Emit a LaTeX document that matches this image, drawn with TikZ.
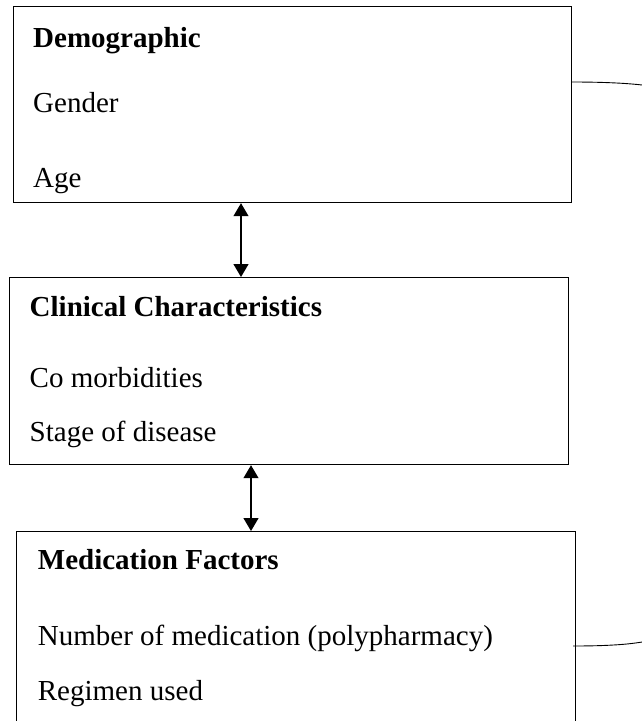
\documentclass[tikz,border=0pt]{standalone}
\usepackage{fontspec}
\setmainfont{Liberation Serif}
\usetikzlibrary{arrows.meta}

\begin{document}
\begin{tikzpicture}[x=1pt,y=-1pt,
		box/.style={draw,line width=1.2pt,inner sep=0pt,anchor=north west},
		item/.style={anchor=base west,inner sep=0pt,font=\fontsize{29}{34}\selectfont},
		head/.style={item,font=\fontsize{29}{34}\selectfont\bfseries},
		link/.style={line width=1.2pt,{Triangle[width=15pt,length=13pt]}-{Triangle[width=15pt,length=13pt]}}]
	% page frame, the last box runs off the bottom
	\clip (0,0) rectangle (642,721);
	% the three boxes
	\node[box,minimum width=558pt,minimum height=196pt] (demo) at (12.7,6) {};
	\node[box,minimum width=559pt,minimum height=187pt] (clin) at (9,277) {};
	\node[box,minimum width=559pt,minimum height=215pt] (med) at (16,531) {};
	% Demographic
	\node[head] (demohead) at (33,47) {Demographic};
	\node[item] (gender) at (33,112) {Gender};
	\node[item] (age) at (33,187) {Age};
	% Clinical characteristics
	\node[head] (clinhead) at (29.5,316) {Clinical Characteristics};
	\node[item] (comorb) at (29.5,387) {Co morbidities};
	\node[item] (stage) at (29.5,441) {Stage of disease};
	% Medication factors
	\node[head] (medhead) at (37.7,569) {Medication Factors};
	\node[item] (number) at (37.7,645) {Number of medication (polypharmacy)};
	\node[item] (regimen) at (37.7,700) {Regimen used};
	% two-way arrows between the boxes
	\coordinate (a1) at (241,0);
	\coordinate (a2) at (251,0);
	\draw[link] (demo.south -| a1) -- (clin.north -| a1);
	\draw[link] (clin.south -| a2) -- (med.north -| a2);
	% lines running off to the right
	\coordinate (e1) at (642,85);
	\coordinate (e2) at (642,642);
	\draw[line width=0.9pt] ([yshift=-76pt]demo.north east) .. controls (600,82) and (625,83) .. (e1);
	\draw[line width=0.9pt] ([xshift=-3pt]number.base -| med.east) ++(0,1) .. controls (600,646) and (625,645) .. (e2);
\end{tikzpicture}
\end{document}
